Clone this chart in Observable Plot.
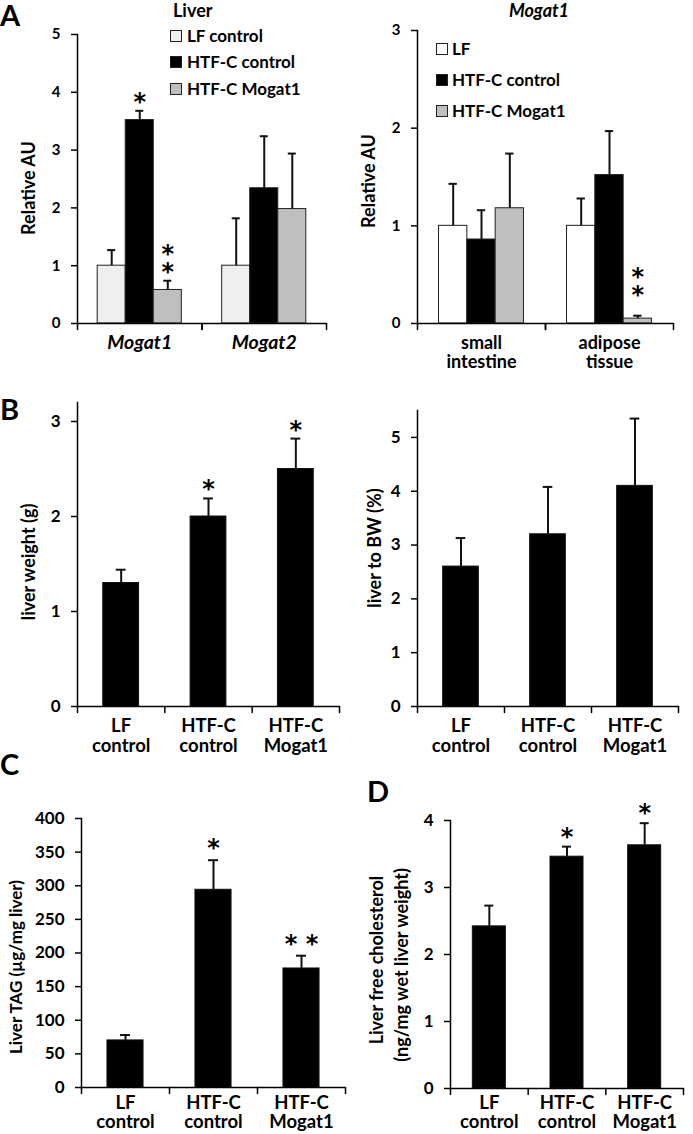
<!DOCTYPE html>
<html><head><meta charset="utf-8">
<script src="https://cdn.jsdelivr.net/npm/d3@7"></script>
<script src="https://cdn.jsdelivr.net/npm/@observablehq/plot@0.6"></script>
<style>
body{margin:0;background:#fff;}
#root{position:relative;width:693px;height:1134px;overflow:hidden;font-family:Lato,sans-serif;font-weight:bold;}
#root > svg{position:absolute;}
</style></head><body><div id="root"></div><script>
// ---------- data ----------
const groupsA1 = ["Mogat1", "Mogat2"];
const seriesA1 = ["LF control", "HTF-C control", "HTF-C Mogat1"];
const meanA1 = [[1.00, 3.52, 0.58], [1.00, 2.34, 1.98]];
const errA1 = [[0.27, 0.16, 0.16], [0.82, 0.90, 0.96]];
const sigA1 = [["", "*", "*\n*"], ["", "", ""]];
const yTicksA1 = [0, 1, 2, 3, 4, 5];

const groupsA2 = ["small\nintestine", "adipose\ntissue"];
const seriesA2 = ["LF", "HTF-C control", "HTF-C Mogat1"];
const meanA2 = [[1.00, 0.86, 1.18], [1.00, 1.52, 0.05]];
const errA2 = [[0.43, 0.30, 0.56], [0.28, 0.45, 0.03]];
const sigA2 = [["", "", ""], ["", "", "*\n*"]];
const yTicksA2 = [0, 1, 2, 3];

const groupsBCD = ["LF\ncontrol", "HTF-C\ncontrol", "HTF-C\nMogat1"];
const weightB = [1.30, 2.00, 2.50];
const weightErrB = [0.14, 0.19, 0.32];
const weightSigB = ["", "*", "*"];
const yTicksB1 = [0, 1, 2, 3];
const ratioB = [2.60, 3.20, 4.10];
const ratioErrB = [0.53, 0.88, 1.25];
const ratioSigB = ["", "", ""];
const yTicksB2 = [0, 1, 2, 3, 4, 5];
const tagC = [70, 294, 177];
const tagErrC = [8, 44, 19];
const tagSigC = ["", "*", "* *"];
const yTicksC = [0, 50, 100, 150, 200, 250, 300, 350, 400];
const cholD = [2.42, 3.46, 3.63];
const cholErrD = [0.31, 0.15, 0.33];
const cholSigD = ["", "*", "*"];
const yTicksD = [0, 1, 2, 3, 4];

const colorsA1 = ["#efefef", "#000000", "#bfbfbf"];
const colorsA2 = ["#ffffff", "#000000", "#bfbfbf"];

const yLabelA1 = "Relative AU";
const yLabelA2 = "Relative AU";
const yLabelB1 = "liver weight (g)";
const yLabelB2 = "liver to BW (%)";
const yLabelC = "Liver TAG (µg/mg liver)";
const yLabelD = ["Liver free cholesterol", "(ng/mg wet liver weight)"];

// ---------- helpers ----------
const root = document.getElementById("root");
const FONT = "Lato, sans-serif";
const STAR = "'DejaVu Sans', sans-serif";
const baseStyle = {fontFamily: FONT, fontWeight: "bold", background: "transparent", color: "black", overflow: "visible"};
const tickShape = {draw(context, l) { context.moveTo(0, 0); context.lineTo(0, -l); }};
const fmt = d => String(d);

function place(svg, left, top) {
  svg.style.left = left + "px";
  svg.style.top = top + "px";
  root.appendChild(svg);
}

function groupedPanel(c) {
  const rows = c.groups.flatMap((g, i) => c.series.map((s, j) => ({
    group: g, series: s, mean: c.means[i][j], hi: c.means[i][j] + c.errs[i][j], sig: c.sigs[i][j]
  })));
  const svg = Plot.plot({
    width: c.width, height: c.height,
    marginLeft: c.ml, marginRight: c.mr, marginTop: c.mt, marginBottom: c.mb,
    style: baseStyle,
    fx: {domain: c.groups, padding: 0, round: false},
    x: {domain: c.series, paddingInner: 0, paddingOuter: c.po, round: false, axis: null},
    y: {domain: c.yDomain},
    color: {domain: c.series, range: c.colors},
    marks: [
      Plot.barY(rows, {fx: "group", x: "series", y: "mean", fill: "series", stroke: "#222", strokeWidth: 1}),
      Plot.ruleX(rows, {fx: "group", x: "series", y1: "mean", y2: "hi", stroke: "#111", strokeWidth: 2}),
      Plot.tickY(rows, {fx: "group", x: "series", y: "hi", stroke: "#111", strokeWidth: 2, insetLeft: c.capInset, insetRight: c.capInset}),
      Plot.text(rows, {fx: "group", x: "series", y: "hi", text: "sig", fontSize: 24, lineAnchor: "bottom", lineHeight: 0.75, dy: c.sigDy, fontFamily: STAR, fontWeight: "bold"}),
      Plot.ruleY([0], {strokeWidth: 1.5}),
      Plot.frame({anchor: "left", facetAnchor: "left", strokeWidth: 1.5}),
      Plot.vector([0], {frameAnchor: "bottom-left", length: 6, rotate: 180, anchor: "start", shape: tickShape, strokeWidth: 1.5}),
      Plot.vector([0], {frameAnchor: "bottom-right", length: 6, rotate: 180, anchor: "start", shape: tickShape, strokeWidth: 1.5}),
      Plot.axisY({ticks: c.yTicks, tickFormat: fmt, tickSize: 6, tickPadding: 11, fontSize: c.tickFont, strokeWidth: 1.5, label: null}),
      Plot.axisFx({anchor: "bottom", tickSize: 0, tickPadding: c.catPad, fontSize: c.catFont, fontStyle: c.catItalic ? "italic" : "normal",
        label: null, lineHeight: c.catLH})
    ]
  });
  place(svg, c.left, c.top);
}

function singlePanel(c) {
  const rows = c.cats.map((g, i) => ({cat: g, mean: c.means[i], hi: c.means[i] + c.errs[i], sig: c.sigs[i]}));
  const step = (c.width - c.ml - c.mr) / c.cats.length;
  const svg = Plot.plot({
    width: c.width, height: c.height,
    marginLeft: c.ml, marginRight: c.mr, marginTop: c.mt, marginBottom: c.mb,
    style: baseStyle,
    x: {domain: c.cats, paddingInner: c.pad, paddingOuter: c.pad / 2, round: false},
    y: {domain: c.yDomain},
    marks: [
      Plot.barY(rows, {x: "cat", y: "mean", fill: "black", stroke: "#111", strokeWidth: 1}),
      Plot.ruleX(rows, {x: "cat", y1: "mean", y2: "hi", stroke: "#111", strokeWidth: 2}),
      Plot.tickY(rows, {x: "cat", y: "hi", stroke: "#111", strokeWidth: 2, insetLeft: c.capInset, insetRight: c.capInset}),
      Plot.text(rows, {x: "cat", y: "hi", text: "sig", fontSize: 24, lineAnchor: "bottom", dy: c.sigDy, fontFamily: STAR, fontWeight: "bold"}),
      Plot.ruleY([0], {strokeWidth: 1.5}),
      Plot.frame({anchor: "left", strokeWidth: 1.5}),
      Plot.vector(c.cats, {x: d => d, y: () => 0, dx: -step / 2, length: 6, rotate: 180, anchor: "start", shape: tickShape, strokeWidth: 1.5}),
      Plot.vector(c.cats.slice(-1), {x: d => d, y: () => 0, dx: step / 2, length: 6, rotate: 180, anchor: "start", shape: tickShape, strokeWidth: 1.5}),
      Plot.axisY({ticks: c.yTicks, tickFormat: fmt, tickSize: 6, tickPadding: 11, fontSize: c.tickFont, strokeWidth: 1.5, label: null}),
      Plot.axisX({anchor: "bottom", tickSize: 0, tickPadding: c.catPad, fontSize: 18.5, label: null, lineHeight: c.catLH})
    ]
  });
  place(svg, c.left, c.top);
}

// ---------- panels ----------
groupedPanel({left: 0, top: 0, width: 340, height: 375, ml: 77, mr: 14, mt: 34, mb: 52,
  groups: groupsA1, series: seriesA1, means: meanA1, errs: errA1, sigs: sigA1, colors: colorsA1,
  yDomain: [0, 5], yTicks: yTicksA1, po: 0.72, capInset: 10, sigDy: -1, tickFont: 15,
  catItalic: true, catFont: 19.5, catPad: 10, catLH: 1.1});

groupedPanel({left: 340, top: 0, width: 353, height: 375, ml: 77, mr: 20, mt: 30, mb: 52,
  groups: groupsA2, series: seriesA2, means: meanA2, errs: errA2, sigs: sigA2, colors: colorsA2,
  yDomain: [0, 3], yTicks: yTicksA2, po: 0.76, capInset: 10, sigDy: -13, tickFont: 15,
  catItalic: false, catFont: 18, catPad: 11, catLH: 1.1});

singlePanel({left: 0, top: 390, width: 345, height: 370, ml: 77, mr: 6, mt: 12, mb: 54,
  cats: groupsBCD, means: weightB, errs: weightErrB, sigs: weightSigB, pad: 0.59,
  yDomain: [0, 3.2], yTicks: yTicksB1, capInset: 13, sigDy: -1, tickFont: 17, catPad: 11, catLH: 1.08});

singlePanel({left: 345, top: 390, width: 348, height: 370, ml: 72, mr: 15, mt: 20, mb: 54,
  cats: groupsBCD, means: ratioB, errs: ratioErrB, sigs: ratioSigB, pad: 0.59,
  yDomain: [0, 5.5], yTicks: yTicksB2, capInset: 13, sigDy: -1, tickFont: 17, catPad: 11, catLH: 1.08});

singlePanel({left: 0, top: 770, width: 350, height: 364, ml: 81, mr: 5, mt: 48, mb: 47,
  cats: groupsBCD, means: tagC, errs: tagErrC, sigs: tagSigC, pad: 0.59,
  yDomain: [0, 400], yTicks: yTicksC, capInset: 13, sigDy: -4, tickFont: 17, catPad: 8, catLH: 1.03});

singlePanel({left: 350, top: 770, width: 343, height: 364, ml: 100, mr: 10, mt: 50, mb: 46,
  cats: groupsBCD, means: cholD, errs: cholErrD, sigs: cholSigD, pad: 0.575,
  yDomain: [0, 4], yTicks: yTicksD, capInset: 12, sigDy: -2, tickFont: 17, catPad: 7, catLH: 1.03});

// ---------- overlay: panel letters, titles, legends, axis titles ----------
const ov = d3.create("svg").attr("width", 693).attr("height", 1134)
  .style("left", "0px").style("top", "0px").style("pointer-events", "none")
  .attr("font-family", FONT).attr("font-weight", "bold");
const letters = [["A", 0, 26], ["B", 0, 420], ["C", 0, 775], ["D", 367, 802]];
ov.selectAll("text.letter").data(letters).join("text").attr("class", "letter")
  .attr("x", d => d[1]).attr("y", d => d[2]).attr("font-size", 29).text(d => d[0]);
ov.append("text").attr("x", 173).attr("y", 17).attr("font-size", 18).text("Liver");
ov.append("text").attr("x", 539).attr("y", 17).attr("font-size", 18).attr("font-style", "italic")
  .attr("text-anchor", "middle").text("Mogat1");

function legend(series, colors, x, baselines, tx) {
  const g = ov.append("g");
  series.forEach((s, i) => {
    g.append("rect").attr("x", x + 0.5).attr("y", baselines[i] - 11.5).attr("width", 11).attr("height", 11)
      .attr("fill", colors[i]).attr("stroke", "#222").attr("stroke-width", 1);
    g.append("text").attr("x", tx).attr("y", baselines[i]).attr("font-size", 17).text(s);
  });
}
legend(seriesA1, colorsA1, 170, [42, 68, 95], 187);
legend(seriesA2, colorsA2, 436, [55, 86, 117], 452);

function yTitle(text, cx, cy, size) {
  ov.append("text").attr("transform", `translate(${cx},${cy}) rotate(-90)`)
    .attr("text-anchor", "middle").attr("dominant-baseline", "central")
    .attr("font-size", size).text(text);
}
yTitle(yLabelA1, 28, 188, 18);
yTitle(yLabelA2, 368, 181, 18);
yTitle(yLabelB1, 28, 562, 18);
yTitle(yLabelB2, 374, 548, 18);
yTitle(yLabelC, 15, 967, 17);
yTitle(yLabelD[0], 376, 960, 18);
yTitle(yLabelD[1], 401, 965, 18);
root.appendChild(ov.node());
</script></body></html>
